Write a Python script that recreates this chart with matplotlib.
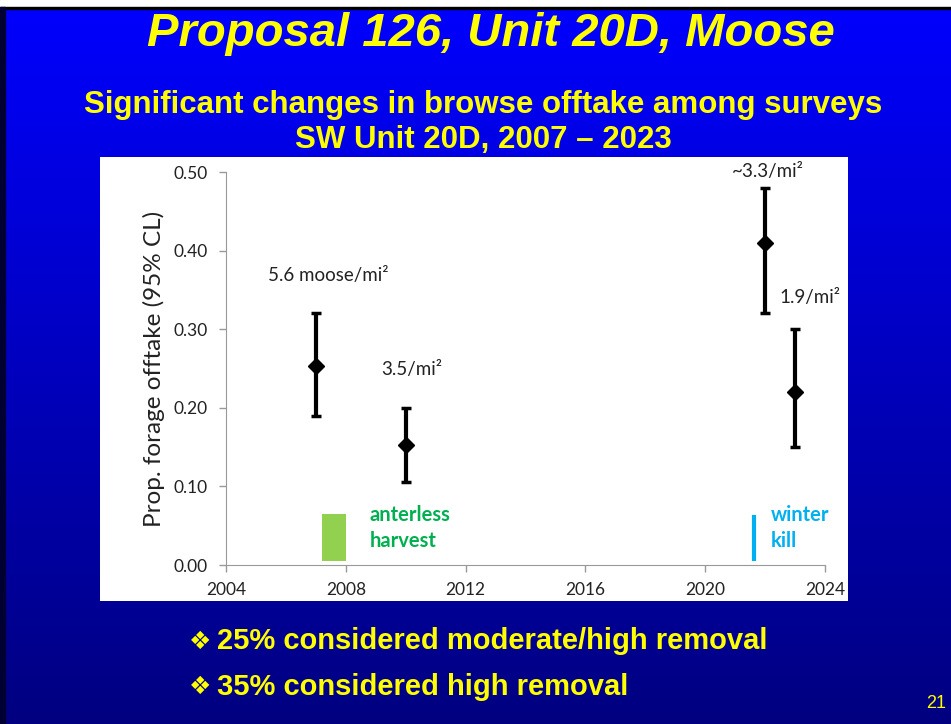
import numpy as np
import matplotlib.pyplot as plt
from matplotlib.patches import Rectangle

# survey data
years = [2007, 2010, 2022, 2023]
offtake = [0.253, 0.153, 0.41, 0.22]
ci_low = [0.19, 0.105, 0.32, 0.15]
ci_high = [0.32, 0.20, 0.48, 0.30]

density_labels = ["5.6 moose/mi\u00b2", "3.5/mi\u00b2", "~3.3/mi\u00b2", "1.9/mi\u00b2"]
label_x = [2007.4, 2010.2, 2022.1, 2023.5]
label_y = [0.368, 0.249, 0.501, 0.34]

x_ticks = [2004, 2008, 2012, 2016, 2020, 2024]
y_ticks = [0.0, 0.1, 0.2, 0.3, 0.4, 0.5]

harvest_span = (2007.2, 2008.0)
winterkill_year = 2021.63
event_top = 0.065

yellow = "#FFFF00"
chart_font = "Lato"
slide_font = ["Liberation Sans", "DejaVu Sans"]

fig = plt.figure(figsize=(9.51, 7.24), dpi=100)

# slide background: blue gradient
bg = fig.add_axes([0, 0, 1, 1])
grad = np.linspace(0, 1, 256).reshape(-1, 1)
top = np.array([0, 0, 255]) / 255
bot = np.array([0, 0, 128]) / 255
img = top + (bot - top) * grad[:, :, None]
bg.imshow(img, aspect="auto", extent=[0, 1, 0, 1], origin="upper")
bg.add_patch(Rectangle((0, 0.991), 1, 0.009, color="white", zorder=3))
bg.add_patch(Rectangle((0, 0.987), 1, 0.004, color="black", zorder=3))
bg.add_patch(Rectangle((0, 0), 0.005, 0.99, color="#000033", zorder=3))
bg.set_xlim(0, 1)
bg.set_ylim(0, 1)
bg.axis("off")

# white panel behind the chart
panel = fig.add_axes([0.105, 0.170, 0.787, 0.613])
panel.set_facecolor("white")
panel.set_xticks([])
panel.set_yticks([])
for s in panel.spines.values():
    s.set_visible(False)

ax = fig.add_axes([0.2377, 0.2196, 0.6298, 0.5428])
ax.set_facecolor("none")

yerr = [np.array(offtake) - np.array(ci_low), np.array(ci_high) - np.array(offtake)]
ax.errorbar(years, offtake, yerr=yerr, fmt="D", color="black", ms=8,
            elinewidth=3, capsize=3.5, capthick=2.5)

for x, y, t in zip(label_x, label_y, density_labels):
    ax.text(x, y, t, ha="center", va="center", fontsize=13.5,
            family=chart_font, color="#222222")

ax.add_patch(Rectangle((harvest_span[0], 0.005), harvest_span[1] - harvest_span[0],
                       event_top - 0.005, color="#92D050", lw=0))
ax.plot([winterkill_year, winterkill_year], [0.005, event_top - 0.002],
        color="#00B0F0", lw=3, solid_capstyle="butt")

ax.text(2008.8, 0.064, "anterless", color="#00B050", fontsize=14.5,
        fontweight="bold", family=chart_font, va="center")
ax.text(2008.8, 0.030, "harvest", color="#00B050", fontsize=14.5,
        fontweight="bold", family=chart_font, va="center")
ax.text(2022.2, 0.064, "winter", color="#00B0F0", fontsize=14.5,
        fontweight="bold", family=chart_font, va="center")
ax.text(2022.2, 0.030, "kill", color="#00B0F0", fontsize=14.5,
        fontweight="bold", family=chart_font, va="center")

ax.set_xlim(2004, 2024)
ax.set_ylim(0, 0.5)
ax.set_xticks(x_ticks)
ax.set_yticks(y_ticks)
ax.set_yticklabels([f"{v:.2f}" for v in y_ticks])
for lab in ax.get_xticklabels() + ax.get_yticklabels():
    lab.set_family(chart_font)
    lab.set_fontsize(12.5)
    lab.set_color("#222222")
ax.tick_params(axis="both", color="#999999", length=5, width=1)
ax.tick_params(axis="y", pad=8)
ax.tick_params(axis="x", pad=7)
for side in ["top", "right"]:
    ax.spines[side].set_visible(False)
for side in ["left", "bottom"]:
    ax.spines[side].set_color("#999999")
ax.set_ylabel("Prop. forage offtake (95% CL)", family=chart_font, fontsize=17.5,
              color="#222222", labelpad=6)

# slide text
fig.text(0.516, 0.953, "Proposal 126, Unit 20D, Moose", ha="center", va="center",
         color=yellow, fontsize=34, fontweight="bold", style="italic", family=slide_font)
fig.text(0.508, 0.855, "Significant changes in browse offtake among surveys",
         ha="center", va="center", color=yellow, fontsize=22.5, fontweight="bold",
         family=slide_font)
fig.text(0.508, 0.806, "SW Unit 20D, 2007 \u2013 2023", ha="center", va="center",
         color=yellow, fontsize=22.5, fontweight="bold", family=slide_font)

fig.text(0.199, 0.114, "\u2756", ha="left", va="center", color=yellow,
         fontsize=18, family=["DejaVu Sans"])
fig.text(0.228, 0.114, "25% considered moderate/high removal", ha="left", va="center",
         color=yellow, fontsize=21, fontweight="bold", family=slide_font)
fig.text(0.199, 0.051, "\u2756", ha="left", va="center", color=yellow,
         fontsize=18, family=["DejaVu Sans"])
fig.text(0.228, 0.051, "35% considered high removal", ha="left", va="center",
         color=yellow, fontsize=21, fontweight="bold", family=slide_font)
fig.text(0.984, 0.029, "21", ha="center", va="center", color=yellow,
         fontsize=13, family=slide_font)

fig.savefig("out.png", dpi=100)
